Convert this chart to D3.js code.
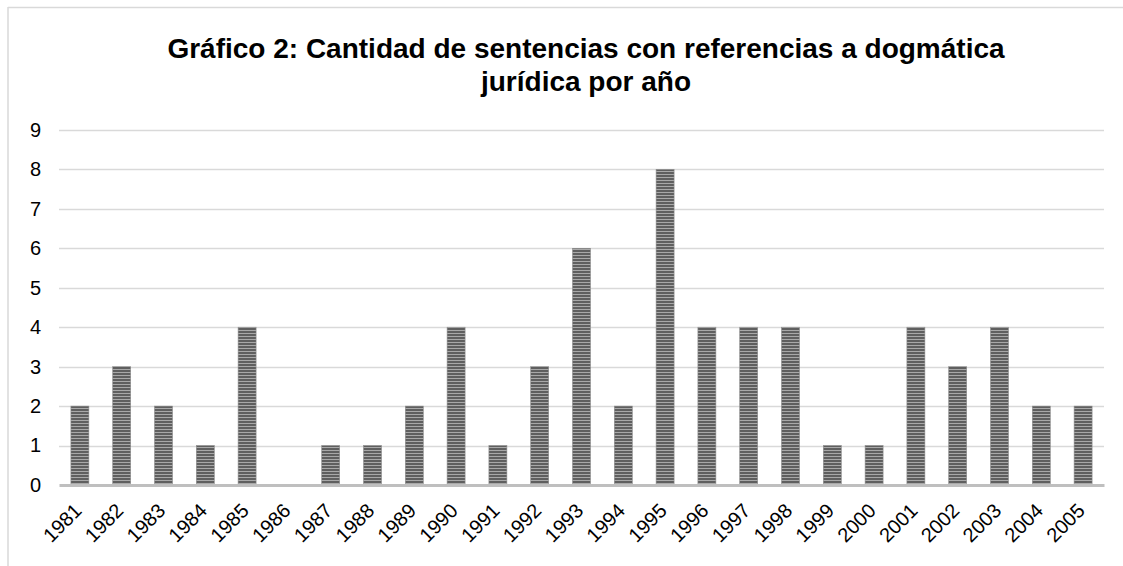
<!DOCTYPE html>
<html>
<head>
<meta charset="utf-8">
<script src="https://cdn.jsdelivr.net/npm/d3@7"></script>
<style>
  body { margin: 0; background: #fff; }
  text { font-family: "Liberation Sans", Arial, sans-serif; }
</style>
</head>
<body>
<div id="chart"></div>
<script>

// data
var years = ["1981","1982","1983","1984","1985","1986","1987","1988","1989","1990",
             "1991","1992","1993","1994","1995","1996","1997","1998","1999","2000",
             "2001","2002","2003","2004","2005"];
var counts = [2,3,2,1,4,0,1,1,2,4,1,3,6,2,8,4,4,4,1,1,4,3,4,2,2];
var yTicks = [0,1,2,3,4,5,6,7,8,9];
var titleLines = ["Gráfico 2: Cantidad de sentencias con referencias a dogmática",
                  "jurídica por año"];

var W = 1123, H = 566;
var margin = {top: 130, right: 19, bottom: 81, left: 59},
  width = W - margin.left - margin.right,
  height = H - margin.top - margin.bottom;

var data = years.map(function(y, i) { return {year: y, n: counts[i]}; });

var svgRoot = d3.select("#chart")
  .append("svg")
    .attr("width", W)
    .attr("height", H);

// striped fill like the original
var defs = svgRoot.append("defs");
var pat = defs.append("pattern")
  .attr("id", "stripes")
  .attr("patternUnits", "userSpaceOnUse")
  .attr("width", 4)
  .attr("height", 3);
pat.append("rect").attr("width", 4).attr("height", 3).attr("fill", "#a8a8a8");
pat.append("rect").attr("width", 4).attr("height", 2).attr("fill", "#5f5f5f");

// outer frame (top + left visible)
svgRoot.append("line")
  .attr("x1", 8).attr("x2", W).attr("y1", 7.5).attr("y2", 7.5)
  .attr("stroke", "#d9d9d9").attr("stroke-width", 1.5);
svgRoot.append("line")
  .attr("x1", 8).attr("x2", 8).attr("y1", 7).attr("y2", H)
  .attr("stroke", "#d9d9d9").attr("stroke-width", 1.5);

// title
svgRoot.append("g")
  .selectAll("text")
  .data(titleLines)
  .enter()
  .append("text")
    .attr("x", 586)
    .attr("y", function(d, i) { return 58 + i * 33; })
    .attr("text-anchor", "middle")
    .attr("font-size", "28px")
    .attr("font-weight", "bold")
    .attr("fill", "#000")
    .text(function(d) { return d; });

var svg = svgRoot.append("g")
  .attr("transform", "translate(" + margin.left + "," + margin.top + ")");

var x = d3.scaleBand()
  .domain(years)
  .range([0, width])
  .paddingInner(0.57)
  .paddingOuter(0.285);

var y = d3.scaleLinear()
  .domain([0, 9])
  .range([height, 0]);

// gridlines
svg.append("g")
  .selectAll("line")
  .data(yTicks.filter(function(d) { return d > 0; }))
  .enter()
  .append("line")
    .attr("x1", 0)
    .attr("x2", width)
    .attr("y1", function(d) { return Math.round(y(d)) + 0.5; })
    .attr("y2", function(d) { return Math.round(y(d)) + 0.5; })
    .attr("stroke", "#d9d9d9")
    .attr("stroke-width", 1.5);

// y labels
var yAxis = svg.append("g")
  .call(d3.axisLeft(y).tickValues(yTicks).tickSize(0).tickPadding(18));
yAxis.select(".domain").remove();
yAxis.selectAll("text")
  .attr("font-size", "20px")
  .attr("fill", "#000")
  .attr("font-family", "'Liberation Sans', Arial, sans-serif");

// bars
svg.selectAll("rect.bar")
  .data(data)
  .enter()
  .append("rect")
    .attr("class", "bar")
    .attr("x", function(d) { return x(d.year); })
    .attr("y", function(d) { return y(d.n); })
    .attr("width", x.bandwidth())
    .attr("height", function(d) { return height - y(d.n); })
    .attr("fill", "url(#stripes)")
    .attr("stroke", "#8c8c8c")
    .attr("stroke-width", 0.6);

// x axis
var xAxis = svg.append("g")
  .attr("transform", "translate(0," + height + ")")
  .call(d3.axisBottom(x).tickSize(0).tickPadding(0));
xAxis.select(".domain")
  .attr("stroke", "#bfbfbf")
  .attr("stroke-width", 3);
xAxis.selectAll("text")
  .attr("font-size", "20px")
  .attr("fill", "#000")
  .attr("font-family", "'Liberation Sans', Arial, sans-serif")
  .attr("text-anchor", "end")
  .attr("dy", "0")
  .attr("transform", "translate(3,27) rotate(-45)");

</script>
</body>
</html>
